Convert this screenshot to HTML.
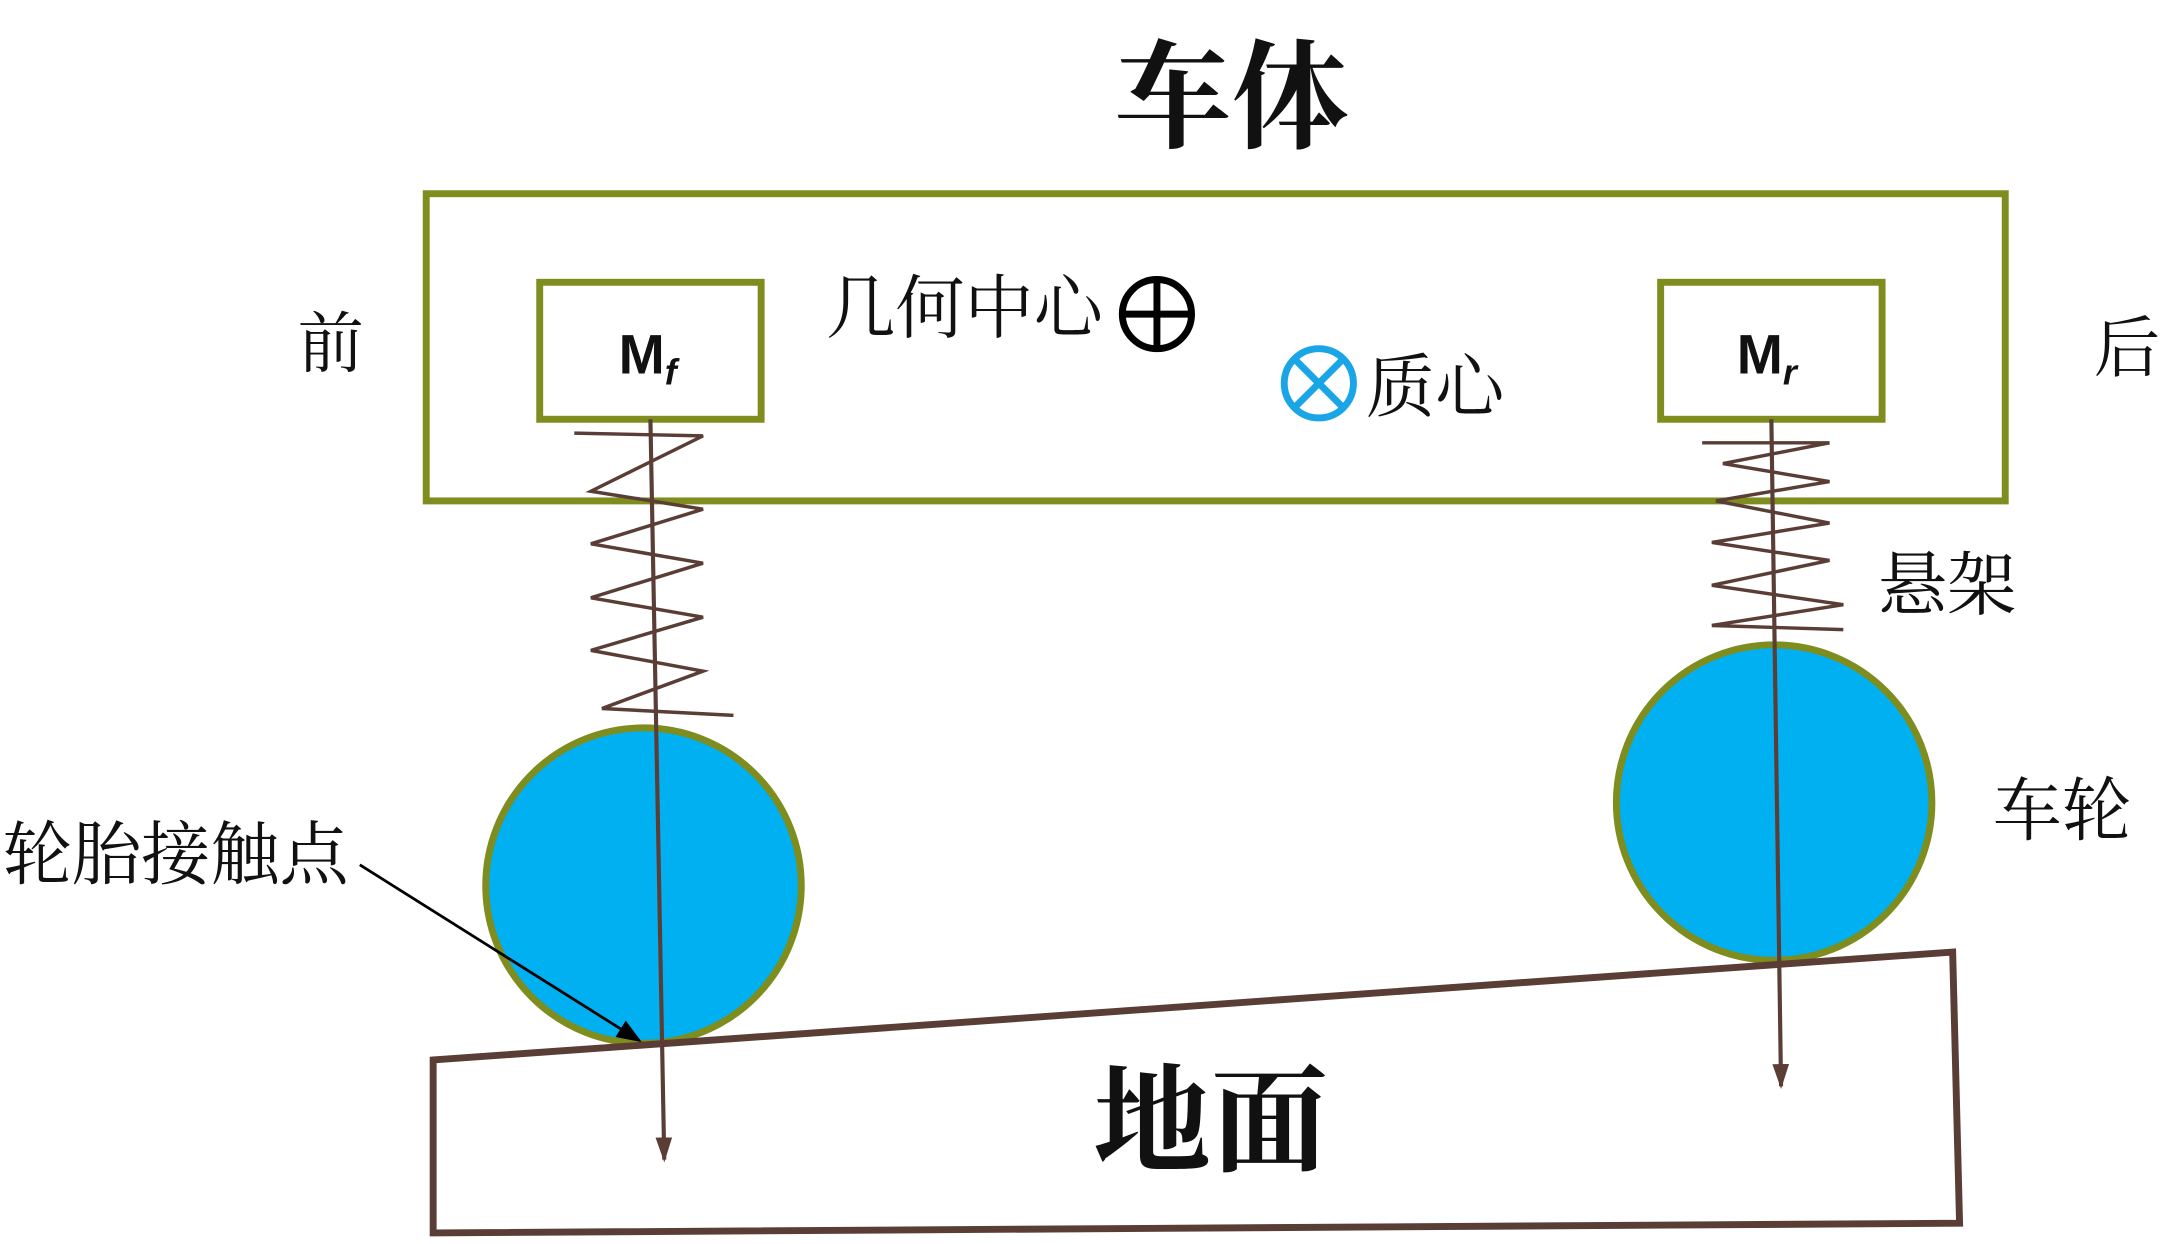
<!DOCTYPE html>
<html><head><meta charset="utf-8"><style>
html,body{margin:0;padding:0;background:#fff;}
svg{display:block;}
text{font-family:"Liberation Serif","Noto Serif CJK SC",serif;fill:#111;}
</style></head><body>
<svg width="2163" height="1244" viewBox="0 0 1563 899" preserveAspectRatio="none" xmlns="http://www.w3.org/2000/svg">
<defs>
<marker id="a" markerWidth="18" markerHeight="12" refX="16" refY="6" orient="auto" markerUnits="userSpaceOnUse"><path d="M0,0 L18,6 L0,12z" fill="#5a3e36"/></marker>
<marker id="b" markerWidth="18" markerHeight="14" refX="16" refY="7" orient="auto" markerUnits="userSpaceOnUse"><path d="M0,0 L18,7 L0,14z" fill="#000"/></marker>
</defs>
<text x="890" y="100" font-size="85" text-anchor="middle" font-weight="bold">车体</text>
<rect x="308" y="140" width="1141" height="222" fill="none" stroke="#7f8c1e" stroke-width="5"/>
<rect x="390" y="204" width="160" height="99" fill="#fff" stroke="#7f8c1e" stroke-width="5"/>
<rect x="1200" y="204" width="160" height="99" fill="#fff" stroke="#7f8c1e" stroke-width="5"/>
<text x="447" y="270" font-size="40" font-weight="bold" style="font-family:'Liberation Sans',sans-serif">M<tspan font-size="26" font-style="italic" dy="8">f</tspan></text>
<text x="1255" y="270" font-size="40" font-weight="bold" style="font-family:'Liberation Sans',sans-serif">M<tspan font-size="26" font-style="italic" dy="8">r</tspan></text>
<text x="597" y="240" font-size="50">几何中心</text>
<circle cx="836" cy="227" r="25" fill="none" stroke="#000" stroke-width="5"/>
<line x1="811" y1="227" x2="861" y2="227" stroke="#000" stroke-width="5"/>
<line x1="836" y1="202" x2="836" y2="252" stroke="#000" stroke-width="5"/>
<circle cx="953" cy="277" r="25" fill="none" stroke="#1aa6e6" stroke-width="5"/>
<line x1="935" y1="259" x2="971" y2="295" stroke="#1aa6e6" stroke-width="5"/>
<line x1="971" y1="259" x2="935" y2="295" stroke="#1aa6e6" stroke-width="5"/>
<text x="987" y="297" font-size="50">质心</text>
<text x="215" y="265" font-size="48">前</text>
<text x="1513" y="268" font-size="48">后</text>
<text x="1357" y="440" font-size="50">悬架</text>
<text x="1440" y="603" font-size="50">车轮</text>
<text x="2" y="635" font-size="50">轮胎接触点</text>
<text x="790" y="840" font-size="85" font-weight="bold">地面</text>
<circle cx="465" cy="640" r="114" fill="#00b0f0" stroke="#7f8c1e" stroke-width="5"/>
<circle cx="1282" cy="580" r="114" fill="#00b0f0" stroke="#7f8c1e" stroke-width="5"/>
<polygon points="313,766 1411,688 1416,884 313,891" fill="none" stroke="#5a3e36" stroke-width="5"/>
<polyline points="415,313 508,315 427,355 508,368 427,393 508,407 427,432 508,446 427,470 508,485 435,512 530,517" fill="none" stroke="#5a3e36" stroke-width="2.5"/>
<polyline points="1230,320 1322,320 1245,335 1322,348 1240,362 1322,378 1237,392 1322,405 1237,423 1332,437 1237,452 1332,455" fill="none" stroke="#5a3e36" stroke-width="2.5"/>
<line x1="470" y1="303" x2="480" y2="838" stroke="#5a3e36" stroke-width="3" marker-end="url(#a)"/>
<line x1="1280" y1="303" x2="1287" y2="785" stroke="#5a3e36" stroke-width="3" marker-end="url(#a)"/>
<line x1="260" y1="625" x2="462" y2="752" stroke="#000" stroke-width="2" marker-end="url(#b)"/>
</svg>
</body></html>
